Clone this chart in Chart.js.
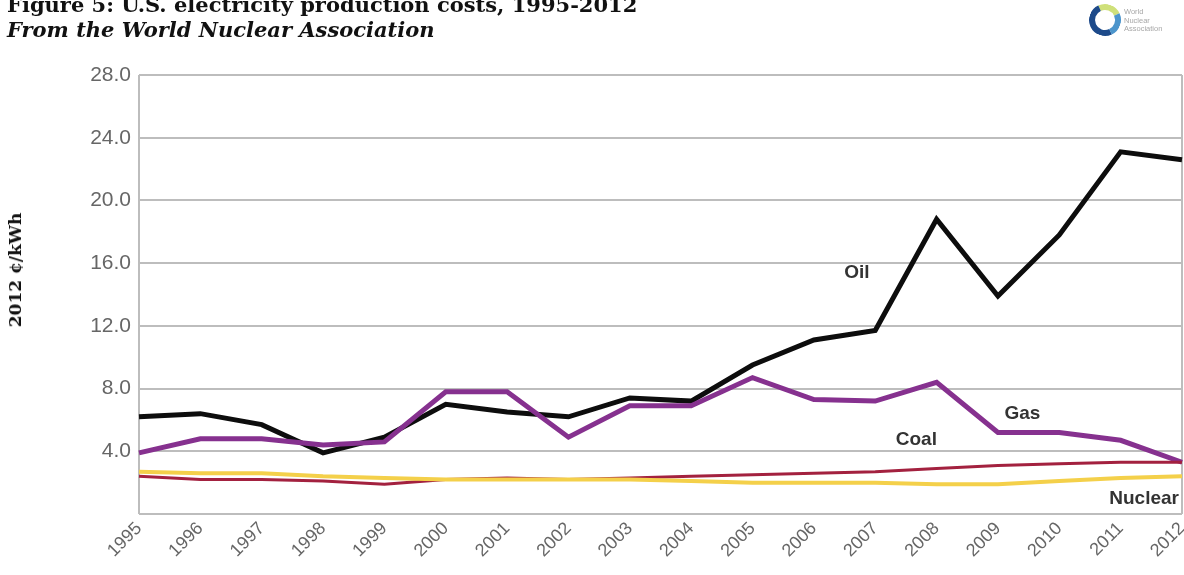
<!DOCTYPE html>
<html>
<head>
<meta charset="utf-8">
<script src="https://cdn.jsdelivr.net/npm/chart.js@4.4.1/dist/chart.umd.min.js"></script>
<style>
  html, body { margin: 0; padding: 0; background: #fff; }
  #wrap { position: relative; width: 1184px; height: 575px; overflow: hidden; }
  #grafico { position: absolute; left: 0; top: 0; }
  .titulo { position: absolute; left: 7px; font-family: "DejaVu Serif", serif; font-weight: bold; color: #111; white-space: nowrap; }
  #t1 { top: -8px; font-size: 21px; }
  #t2 { top: 17px; font-size: 21px; font-style: italic; }
  #ylabel { position: absolute; left: 15px; top: 270px; transform: translate(-50%, -50%) rotate(-90deg);
            font-family: "DejaVu Serif", serif; font-weight: bold; font-size: 17px; color: #111; white-space: nowrap; }
  #logo { position: absolute; left: 1088px; top: 3px; width: 96px; height: 34px; }
  #logo .anel { position: absolute; left: 1px; top: 1px; width: 20px; height: 20px; border-radius: 50%;
                border: 6px solid #1d4a8a; border-top-color: #cfe07a; border-right-color: #4c95cc; transform: rotate(20deg); }
  #logo .txt { position: absolute; left: 36px; top: 5px; font-family: "Liberation Sans", sans-serif; font-size: 7.5px;
               line-height: 8.5px; color: #a8a8a8; }
</style>
</head>
<body>
<div id="wrap">
  <canvas id="grafico" width="1184" height="575"></canvas>
  <div class="titulo" id="t1">Figure 5: U.S. electricity production costs, 1995-2012</div>
  <div class="titulo" id="t2">From the World Nuclear Association</div>
  <div id="ylabel">2012 ¢/kWh</div>
  <div id="logo"><div class="anel"></div><div class="txt">World<br>Nuclear<br>Association</div></div>
</div>
<script>
// categories (years)
var anos = ['1995', '1996', '1997', '1998', '1999', '2000', '2001', '2002', '2003',
            '2004', '2005', '2006', '2007', '2008', '2009', '2010', '2011', '2012'];

// production costs, 2012 cents per kWh
var oil     = [6.2, 6.4, 5.7, 3.9, 4.9, 7.0, 6.5, 6.2, 7.4, 7.2, 9.5, 11.1, 11.7, 18.8, 13.9, 17.8, 23.1, 22.6];
var gas     = [3.9, 4.8, 4.8, 4.4, 4.6, 7.8, 7.8, 4.9, 6.9, 6.9, 8.7, 7.3, 7.2, 8.4, 5.2, 5.2, 4.7, 3.3];
var coal    = [2.4, 2.2, 2.2, 2.1, 1.9, 2.2, 2.3, 2.2, 2.3, 2.4, 2.5, 2.6, 2.7, 2.9, 3.1, 3.2, 3.3, 3.3];
var nuclear = [2.7, 2.6, 2.6, 2.4, 2.3, 2.2, 2.2, 2.2, 2.2, 2.1, 2.0, 2.0, 2.0, 1.9, 1.9, 2.1, 2.3, 2.4];

// y axis ticks
var yTicks = [0, 4, 8, 12, 16, 20, 24, 28];

// series names written inside the plot, anchored in data units (category index, value)
var rotulos = [
    { text: 'Oil', x: 11.7, y: 15.4, align: 'center' },
    { text: 'Gas', x: 14.4, y: 6.4, align: 'center' },
    { text: 'Coal', x: 12.67, y: 4.75, align: 'center' },
    { text: 'Nuclear', x: 16.95, y: 1.0, align: 'right' }
];

document.addEventListener("DOMContentLoaded", function () {
    desenharGrafico();
});

function desenharGrafico() {
    var ctx = document.getElementById('grafico').getContext('2d');

    // plugin that writes the series names next to the lines
    var rotulosPlugin = {
        id: 'rotulos',
        afterDatasetsDraw: function (chart) {
            var c = chart.ctx;
            var sx = chart.scales.x, sy = chart.scales.y;
            c.save();
            c.font = 'bold 19px "Liberation Sans", Arial, sans-serif';
            c.fillStyle = '#333';
            c.textBaseline = 'middle';
            rotulos.forEach(function (r) {
                c.textAlign = r.align;
                c.fillText(r.text, sx.getPixelForValue(r.x), sy.getPixelForValue(r.y));
            });
            c.restore();
        }
    };

    new Chart(ctx, {
        type: 'line',
        data: {
            labels: anos,
            datasets: [
                { label: 'Nuclear', data: nuclear, borderColor: '#f4d04a', borderWidth: 4 },
                { label: 'Coal', data: coal, borderColor: '#a3213f', borderWidth: 3 },
                { label: 'Gas', data: gas, borderColor: '#86318f', borderWidth: 5 },
                { label: 'Oil', data: oil, borderColor: '#0d0d0d', borderWidth: 5 }
            ]
        },
        options: {
            responsive: false,
            animation: false,
            elements: {
                point: { radius: 0 },
                line: { tension: 0, fill: false, borderJoinStyle: 'miter' }
            },
            layout: { padding: { top: 75, right: 2, left: 0, bottom: 0 } },
            scales: {
                x: {
                    offset: false,
                    grid: {
                        color: function (c) {
                            return (c.index === 0 || c.index === anos.length - 1) ? '#bdbdbd' : 'transparent';
                        },
                        lineWidth: 2,
                        drawTicks: false
                    },
                    border: { display: false },
                    ticks: {
                        autoSkip: false,
                        maxRotation: 45,
                        minRotation: 45,
                        padding: 4,
                        color: '#666',
                        font: { family: '"Liberation Sans", Arial, sans-serif', size: 18 }
                    },
                    afterFit: function (scale) {
                        scale.height = 61;
                        scale.paddingLeft = 0;
                        scale.paddingRight = 0;
                    }
                },
                y: {
                    min: 0,
                    max: 28,
                    afterBuildTicks: function (scale) {
                        scale.ticks = yTicks.map(function (v) { return { value: v }; });
                    },
                    grid: { color: '#bdbdbd', lineWidth: 2, drawTicks: false },
                    border: { display: false },
                    ticks: {
                        padding: 8,
                        color: '#666',
                        font: { family: '"Liberation Sans", Arial, sans-serif', size: 21 },
                        callback: function (v) { return v === 0 ? '' : v.toFixed(1); }
                    },
                    afterFit: function (scale) {
                        scale.width = 139;
                        scale.paddingTop = 0;
                        scale.paddingBottom = 0;
                    }
                }
            },
            plugins: {
                legend: { display: false },
                tooltip: { enabled: false }
            }
        },
        plugins: [rotulosPlugin]
    });
}
</script>
</body>
</html>
